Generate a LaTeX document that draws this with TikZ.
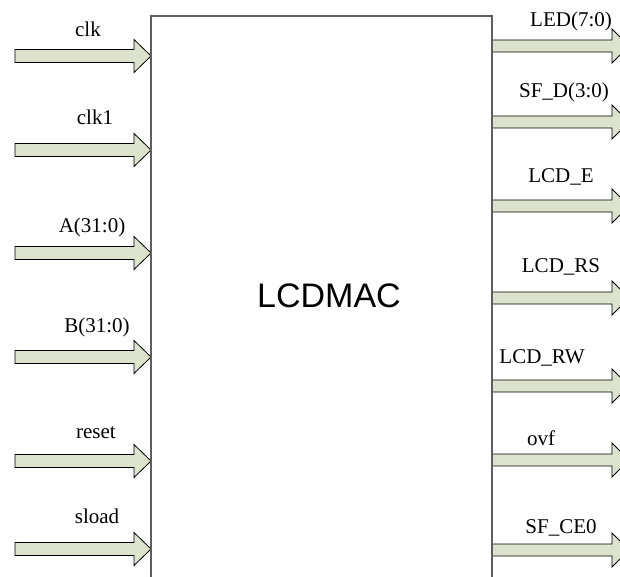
\documentclass[tikz,border=0pt]{standalone}
\usepackage{fontspec}
\setmainfont{Liberation Serif}
\setsansfont{Liberation Sans}
\usepackage{tikz}
\usetikzlibrary{}
\definecolor{sigfill}{RGB}{221,226,204}
\definecolor{boxline}{RGB}{95,95,95}

\begin{document}
\begin{tikzpicture}[x=1pt,y=-1pt,
    sig/.style={draw=black,line width=0.8pt,fill=sigfill,line join=miter},
    lab/.style={anchor=base,inner sep=0pt,font=\fontsize{21}{25}\selectfont}]
        \clip (0,0) rectangle (620,577);

        % Input signals
        \foreach \y/\lx/\ly/\txt [count=\i] in
            {56/88/37/clk, 150/95/125/clk1, 253/92/232/A(31:0),
             357/97/332/B(31:0), 461/96/438/reset, 549/97/523/sload}
        {
            \draw[sig] (15,\y-6.5) -- (134,\y-6.5) -- (134,\y-16.5) -- (151,\y)
                -- (134,\y+16.5) -- (134,\y+6.5) -- (15,\y+6.5) -- cycle;
            \node[lab] (in\i) at (\lx,\ly) {\txt};
        }

        % Output signals
        \foreach \y/\lx/\ly/\txt [count=\i] in
            {46/571/27/LED(7:0), 122/564/98/SF\_D(3:0), 206/561/183/LCD\_E,
             298/561/272/LCD\_RS, 386/542/363/LCD\_RW, 460/541/445/ovf,
             550/561/533/SF\_CE0}
        {
            \draw[sig] (492,\y-6) -- (612,\y-6) -- (612,\y-17) -- (629,\y)
                -- (612,\y+17) -- (612,\y+6) -- (492,\y+6) -- cycle;
            \node[lab] (out\i) at (\lx,\ly) {\txt};
        }

        % Block
        \draw[boxline,line width=1.3pt] (151,577) -- (151,16) -- (492,16) -- (492,577);
        \node[font=\sffamily\fontsize{34}{40}\selectfont] (mac) at (329,296) {LCDMAC};
    \end{tikzpicture}
\end{document}
